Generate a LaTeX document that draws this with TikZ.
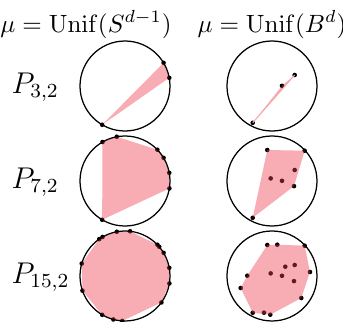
\documentclass[tikz,border=0pt]{standalone}
\usepackage{amsmath,amssymb}
\usepackage{tikz}
\definecolor{hullred}{RGB}{235,60,75}

\begin{document}
\begin{tikzpicture}[x=0.4pt,y=0.4pt,
  ring/.style={line width=0.5pt},
  hull/.style={fill=hullred,fill opacity=0.42},
  pt/.style={fill=black}]
  \useasboundingbox (0,0) rectangle (343,322);
  % column titles
  \node[anchor=base] (tsph) at (86,290) {$\mu = \mathrm{Unif}(S^{d-1})$};
  \node[anchor=base] (tball) at (272,290) {$\mu = \mathrm{Unif}(B^{d})$};
  % row labels
  \node[anchor=west,inner sep=0,font=\large] (p3) at (11,235) {$P_{3,2}$};
  \node[anchor=west,inner sep=0,font=\large] (p7) at (11,140) {$P_{7,2}$};
  \node[anchor=west,inner sep=0,font=\large] (p15) at (11,45) {$P_{15,2}$};

  % sphere, 3 points
  \begin{scope}[shift={(125,236)}]
    \fill[pt] (31:45) circle (2.3) (10.5:45) circle (2.3) (-120.5:45) circle (2.3);
    \fill[hull] (31:45) -- (10.5:45) -- (-120.5:45) -- cycle;
    \draw[ring] (0,0) circle (45);
  \end{scope}
  % ball, 3 points
  \begin{scope}[shift={(272,236)}]
    \fill[pt] (-19.3,-36.8) circle (2.3) (10,0.2) circle (2.3) (22.7,11) circle (2.3);
    \fill[hull] (-19.3,-36.8) -- (10,0.2) -- (22.7,11) -- cycle;
    \draw[hullred!45,line width=0.4pt] (-19.3,-36.8) -- (22.7,11);
    \draw[ring] (0,0) circle (45);
  \end{scope}

  % sphere, 7 points
  \begin{scope}[shift={(125,141)}]
    \fill[pt] (120:45) circle (2.3) (100.5:45) circle (2.3) (44:45) circle (2.3)
      (31:45) circle (2.3) (10.5:45) circle (2.3) (-9.5:45) circle (2.3)
      (-120.5:45) circle (2.3);
    \fill[hull] (120:45) -- (100.5:45) -- (44:45) -- (31:45) -- (10.5:45)
      -- (-9.5:45) -- (-120.5:45) -- cycle;
    \draw[ring] (0,0) circle (45);
  \end{scope}
  % ball, 7 points
  \begin{scope}[shift={(272,141)}]
    \fill[pt] (-4.7,31) circle (2.3) (32.7,30.3) circle (2.3) (22.7,11) circle (2.3)
      (-1.3,2.6) circle (2.3) (10,0.2) circle (2.3) (22,-5.1) circle (2.3)
      (-19.3,-36.8) circle (2.3);
    \fill[hull] (-4.7,31) -- (32.7,30.3) -- (22,-5.1) -- (-19.3,-36.8) -- cycle;
    \draw[ring] (0,0) circle (45);
  \end{scope}

  % sphere, 15 points
  \begin{scope}[shift={(125,46)}]
    \fill[pt] (164:45) circle (2.3) (125:45) circle (2.3) (120:45) circle (2.3)
      (100.5:45) circle (2.3) (83.5:45) circle (2.3) (44:45) circle (2.3)
      (40.5:45) circle (2.3) (31:45) circle (2.3) (10.5:45) circle (2.3)
      (-9.5:45) circle (2.3) (-36:45) circle (2.3) (-93.5:45) circle (2.3)
      (-105:45) circle (2.3) (-120.5:45) circle (2.3) (-161:45) circle (2.3);
    \fill[hull] (164:45) -- (125:45) -- (120:45) -- (100.5:45) -- (83.5:45)
      -- (44:45) -- (40.5:45) -- (31:45) -- (10.5:45) -- (-9.5:45) -- (-36:45)
      -- (-93.5:45) -- (-105:45) -- (-120.5:45) -- (-161:45) -- cycle;
    \draw[ring] (0,0) circle (45);
  \end{scope}
  % ball, 15 points
  \begin{scope}[shift={(272,46)}]
    \fill[pt] (-4.7,31) circle (2.3) (5.3,31.3) circle (2.3) (32.7,30.3) circle (2.3)
      (22.7,11) circle (2.3) (13.3,9.3) circle (2.3) (-1.3,2.6) circle (2.3)
      (10,0.2) circle (2.3) (22,-5.1) circle (2.3) (-24.7,0.3) circle (2.3)
      (-31.3,-12) circle (2.3) (29.3,-22) circle (2.3) (-19.3,-36.8) circle (2.3)
      (-8,-36.7) circle (2.3) (-1.7,-38.7) circle (2.3) (38,4) circle (2.3);
    \fill[hull] (-4.7,31) -- (5.3,31.3) -- (32.7,30.3) -- (38,4) -- (29.3,-22)
      -- (-1.7,-38.7) -- (-19.3,-36.8) -- (-31.3,-12) -- (-24.7,0.3) -- cycle;
    \draw[ring] (0,0) circle (45);
  \end{scope}
\end{tikzpicture}
\end{document}
